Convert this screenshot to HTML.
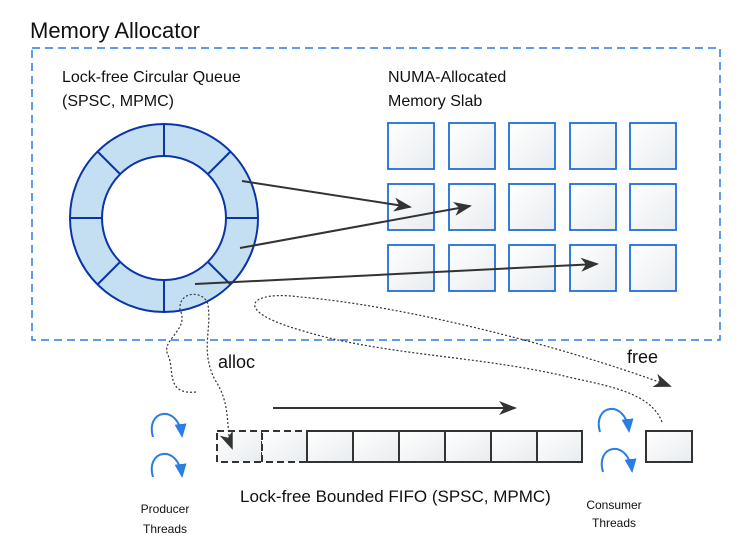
<!DOCTYPE html>
<html><head><meta charset="utf-8"><style>
body{margin:0;background:#fff;width:748px;height:553px;overflow:hidden;font-family:"Liberation Sans",sans-serif}
</style></head><body>
<svg width="748" height="553" viewBox="0 0 748 553" xmlns="http://www.w3.org/2000/svg" font-family="Liberation Sans, sans-serif">
<defs>
<linearGradient id="g" x1="0" y1="0" x2="1" y2="1"><stop offset="0" stop-color="#ffffff"/><stop offset="1" stop-color="#e8ecef"/></linearGradient>
<marker id="ah2" markerWidth="18" markerHeight="14" refX="16" refY="7" orient="auto" markerUnits="userSpaceOnUse" viewBox="0 0 18 14"><path d="M0,0 L18,7 L0,14 L5,7z" fill="#333"/></marker>
<marker id="bh" markerWidth="14" markerHeight="12" refX="12" refY="6" orient="auto" markerUnits="userSpaceOnUse" viewBox="0 0 14 12"><path d="M0,0 L14,6 L0,12z" fill="#2a7de1"/></marker>
</defs>
<text x="30" y="38" font-size="22" fill="#111">Memory Allocator</text>
<rect x="32" y="48" width="688" height="292" fill="none" stroke="#2a7de1" stroke-width="1.5" stroke-dasharray="8,5"/>
<text x="62" y="82" font-size="16" fill="#111">Lock-free Circular Queue</text>
<text x="62" y="106" font-size="16" fill="#111">(SPSC, MPMC)</text>
<text x="388" y="82" font-size="16" fill="#111">NUMA-Allocated</text>
<text x="388" y="106" font-size="16" fill="#111">Memory Slab</text>
<circle cx="164" cy="218" r="94" fill="#c5dff2" stroke="#0a35a8" stroke-width="2"/>
<circle cx="164" cy="218" r="62" fill="#fff" stroke="#0a35a8" stroke-width="2"/>
<g stroke="#0a35a8" stroke-width="2">
<line x1="164" y1="124" x2="164" y2="156"/><line x1="164" y1="280" x2="164" y2="312"/>
<line x1="70" y1="218" x2="102" y2="218"/><line x1="226" y1="218" x2="258" y2="218"/>
<line x1="97.5" y1="151.5" x2="120" y2="174"/><line x1="230.5" y1="151.5" x2="208" y2="174"/>
<line x1="97.5" y1="284.5" x2="120" y2="262"/><line x1="230.5" y1="284.5" x2="208" y2="262"/>
</g>
<g fill="url(#g)" stroke="#1f6fd6" stroke-width="1.8">
<rect x="388" y="123" width="46" height="46"/><rect x="449" y="123" width="46" height="46"/><rect x="509" y="123" width="46" height="46"/><rect x="570" y="123" width="46" height="46"/><rect x="630" y="123" width="46" height="46"/>
<rect x="388" y="184" width="46" height="46"/><rect x="449" y="184" width="46" height="46"/><rect x="509" y="184" width="46" height="46"/><rect x="570" y="184" width="46" height="46"/><rect x="630" y="184" width="46" height="46"/>
<rect x="388" y="245" width="46" height="46"/><rect x="449" y="245" width="46" height="46"/><rect x="509" y="245" width="46" height="46"/><rect x="570" y="245" width="46" height="46"/><rect x="630" y="245" width="46" height="46"/>
</g>
<g stroke="#333" stroke-width="2" fill="none">
<line x1="242" y1="181" x2="410" y2="207" marker-end="url(#ah2)"/>
<line x1="240" y1="248" x2="470" y2="206" marker-end="url(#ah2)"/>
<line x1="195" y1="284" x2="597" y2="264" marker-end="url(#ah2)"/>
<line x1="273" y1="408" x2="515" y2="408" marker-end="url(#ah2)"/>
</g>
<text x="218" y="368" font-size="18" fill="#111">alloc</text>
<text x="627" y="363" font-size="18" fill="#111">free</text>
<g fill="url(#g)" stroke="#333" stroke-width="2">
<rect x="217" y="431" width="45" height="31" stroke-dasharray="7,4"/>
<rect x="262" y="431" width="45" height="31" stroke-dasharray="7,4"/>
<rect x="307" y="431" width="46" height="31"/><rect x="353" y="431" width="46" height="31"/><rect x="399" y="431" width="46" height="31"/><rect x="445" y="431" width="46" height="31"/><rect x="491" y="431" width="46" height="31"/><rect x="537" y="431" width="45" height="31"/>
<rect x="646" y="431" width="46" height="31"/>
</g>
<g stroke="#333" stroke-width="1.2" fill="none" stroke-dasharray="2,2">
<path d="M196,392 C165,395 175,370 168,355 C160,340 190,330 180,310 C178,290 205,290 208,305 C212,330 200,350 215,380 C232,405 225,430 232,448" marker-end="url(#ah2)"/>
<path d="M662,422 C650,390 600,385 560,375 C470,355 380,355 300,330 C230,310 250,290 300,297 C400,305 560,345 670,386" marker-end="url(#ah2)"/>
</g>
<g stroke="#2a7de1" stroke-width="2" fill="none">
<path d="M153,437 C145,410 178,403 182,436" marker-end="url(#bh)"/>
<path d="M153,477 C145,450 178,443 182,476" marker-end="url(#bh)"/>
<path d="M600,432 C592,405 625,398 629,431" marker-end="url(#bh)"/>
<path d="M603,472 C595,445 628,438 632,471" marker-end="url(#bh)"/>
</g>
<text x="240" y="502" font-size="17" fill="#111">Lock-free Bounded FIFO (SPSC, MPMC)</text>
<text x="165" y="513" font-size="12" fill="#111" text-anchor="middle">Producer</text>
<text x="165" y="533" font-size="12" fill="#111" text-anchor="middle">Threads</text>
<text x="614" y="509" font-size="12" fill="#111" text-anchor="middle">Consumer</text>
<text x="614" y="527" font-size="12" fill="#111" text-anchor="middle">Threads</text>
</svg>
</body></html>
